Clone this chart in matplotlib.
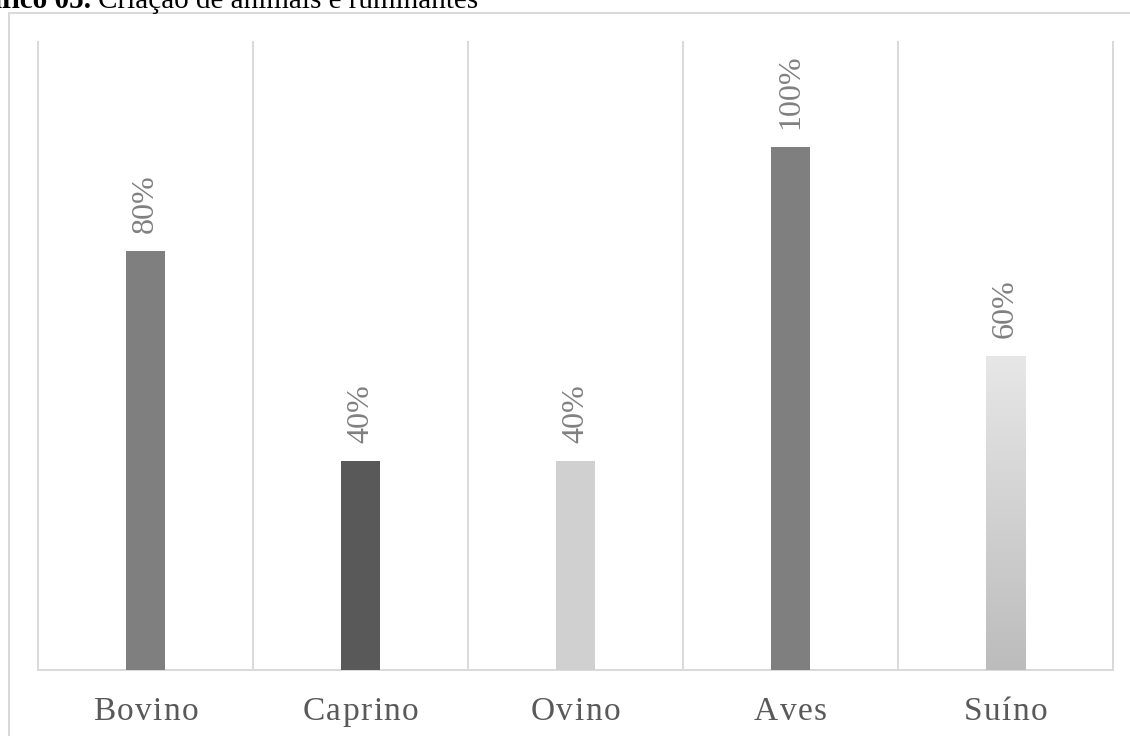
import numpy as np
import matplotlib
matplotlib.use("Agg")
import matplotlib.pyplot as plt
from matplotlib.colors import LinearSegmentedColormap
from matplotlib.font_manager import FontProperties
from matplotlib.patches import Rectangle
from matplotlib.transforms import blended_transform_factory, offset_copy

# data
categories = ["Bovino", "Caprino", "Ovino", "Aves", "Suíno"]
values = [80, 40, 40, 100, 60]
value_labels = ["80%", "40%", "40%", "100%", "60%"]
bar_colors = ["#7f7f7f", "#595959", "#d0d0d0", "#7f7f7f", None]  # None -> gradient

W, H = 1130, 736
SERIF = "Liberation Serif"
GRID = "#d9d9d9"

fig = plt.figure(figsize=(W / 100, H / 100), dpi=100)
ax = fig.add_axes([38 / W, 66 / H, (1113 - 38) / W, 628 / H])

x = np.arange(len(categories))
bars = ax.bar(x, values, width=0.186,
              color=[c if c else "none" for c in bar_colors], zorder=3)

# gradient fill for the last bar
cmap = LinearSegmentedColormap.from_list("grad", ["#bcbcbc", "#e7e7e7"])
for b, c in zip(bars, bar_colors):
    if c is None:
        grad = np.linspace(0, 1, 256).reshape(-1, 1)
        ax.imshow(grad, extent=[b.get_x(), b.get_x() + b.get_width(), 0, b.get_height()],
                  origin="lower", cmap=cmap, aspect="auto", zorder=3)

ax.set_xlim(-0.5, len(categories) - 0.5)
ax.set_ylim(0, 120)
ax.set_xticks([])
ax.set_yticks([])

# vertical separators between categories
for xb in np.arange(-0.5, len(categories)):
    ax.axvline(xb, color=GRID, lw=1.4, clip_on=False, zorder=1)
for s in ["top", "left", "right"]:
    ax.spines[s].set_visible(False)
ax.spines["bottom"].set_color(GRID)
ax.spines["bottom"].set_linewidth(1.4)

# rotated value labels
for b, lab in zip(bars, value_labels):
    ax.annotate(lab, (b.get_x() + b.get_width() / 2, b.get_height()),
                xytext=(0, 13), textcoords="offset points", rotation=90,
                ha="center", va="bottom", fontsize=23, color="#808080", family=SERIF)

# letter-spaced category labels
renderer = fig.canvas.get_renderer()
fp = FontProperties(family=SERIF, size=24)
spacing = 1.4
base = blended_transform_factory(ax.transData, ax.transAxes)
for xi, name in zip(x, categories):
    widths = [renderer.get_text_width_height_descent(ch, fp, ismath=False)[0] for ch in name]
    total = sum(widths) + spacing * (len(name) - 1)
    pos = -total / 2
    for ch, w in zip(name, widths):
        t = offset_copy(base, fig=fig, x=pos, y=-50, units="dots")
        ax.text(xi, 0, ch, transform=t, ha="left", va="baseline",
                fontproperties=fp, color="#595959")
        pos += w + spacing

# outer frame (runs off the right and bottom edges)
fig.add_artist(Rectangle((9 / W, -0.05), 2, 1.05 - 13 / H, transform=fig.transFigure,
                         fill=False, edgecolor=GRID, lw=1.4))

# title, partly cut off at the top as in the source
ty = 1 - 7.5 / H
fig.text(91 / W, ty, "Gráfico 05.", ha="right", va="baseline", weight="bold",
         fontsize=21, family=SERIF, color="black")
fig.text(98 / W, ty, "Criação de animais e ruminantes", ha="left", va="baseline",
         fontsize=21, family=SERIF, color="black")

fig.savefig("out.png", dpi=100)
